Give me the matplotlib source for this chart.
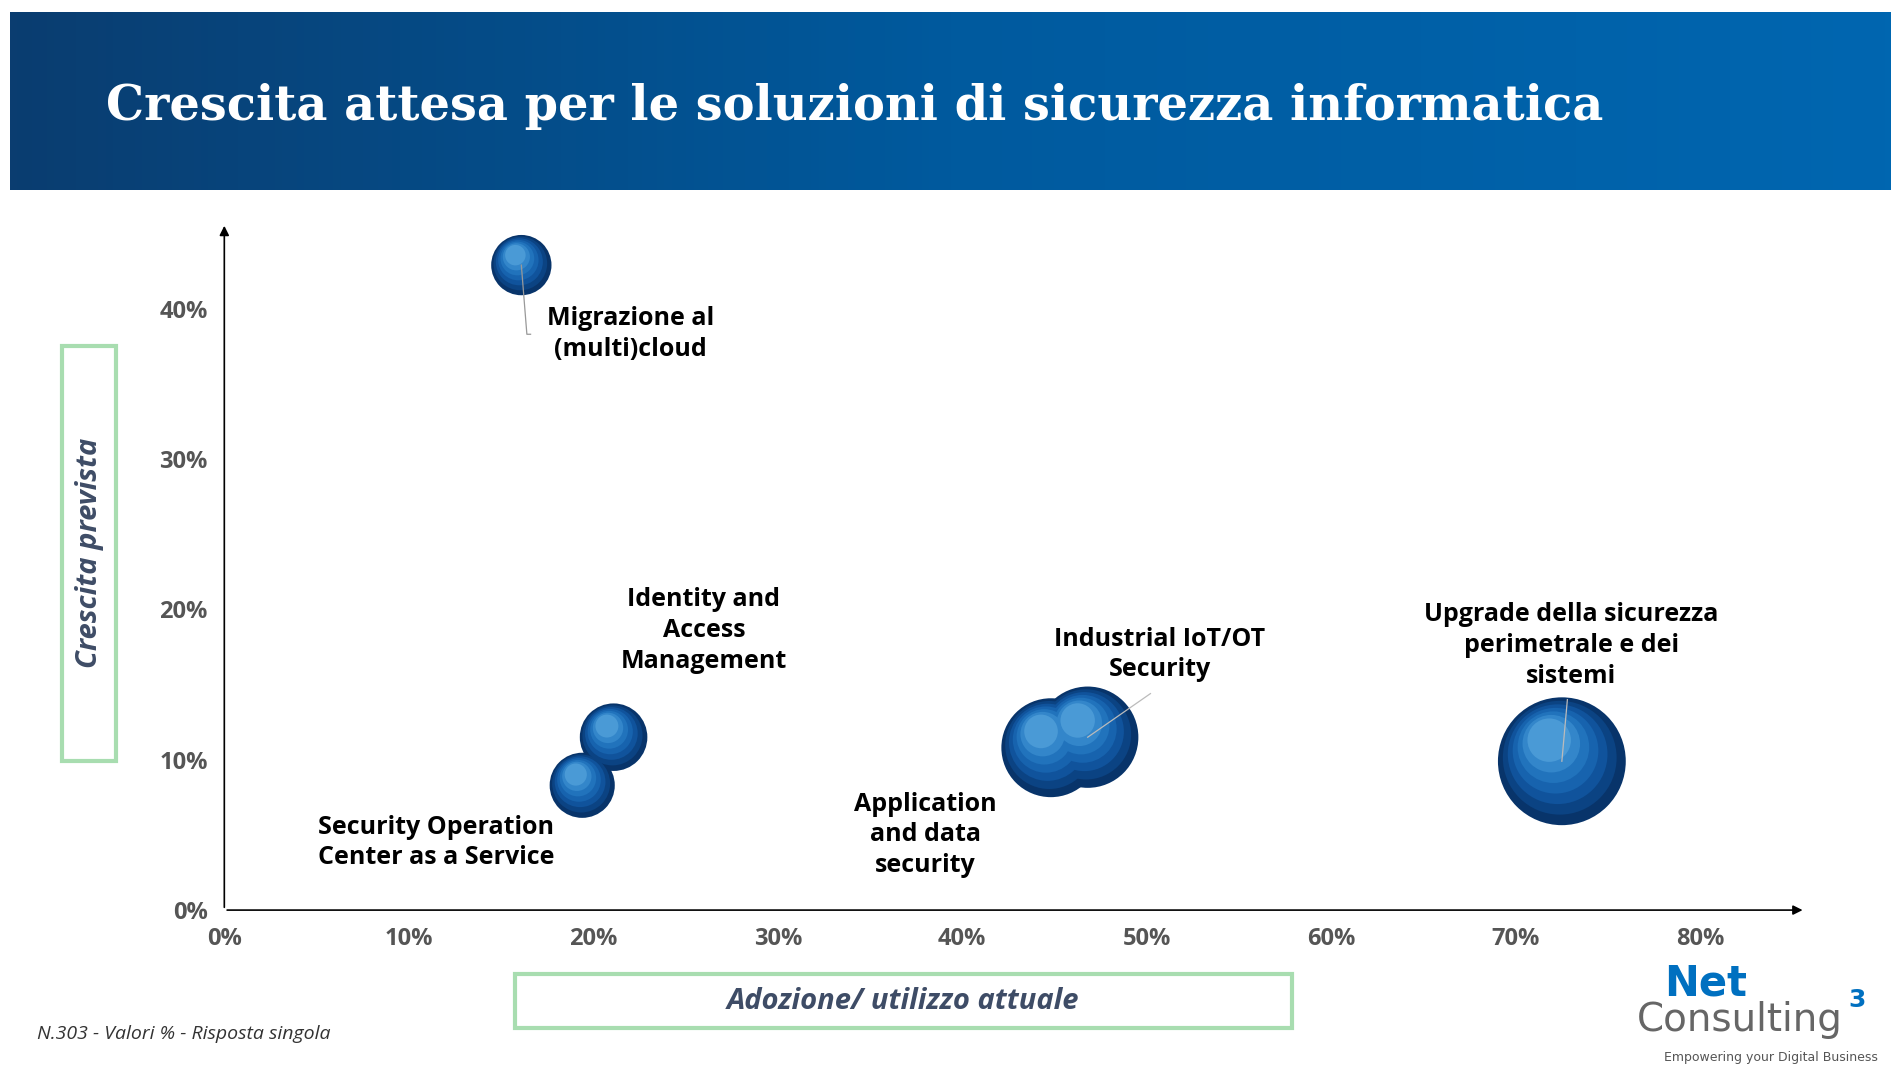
import numpy as np
import matplotlib.pyplot as plt
from matplotlib.patches import Rectangle
from matplotlib.colors import LinearSegmentedColormap

# Dati
nomi = ["Migrazione al\n(multi)cloud", "Identity and\nAccess\nManagement",
        "Security Operation\nCenter as a Service", "Application\nand data\nsecurity",
        "Industrial IoT/OT\nSecurity", "Upgrade della sicurezza\nperimetrale e dei\nsistemi"]
adozione = [16.1, 21.1, 19.4, 44.8, 46.8, 72.5]
crescita = [42.9, 11.5, 8.3, 10.8, 11.5, 9.9]
dimensione = [25, 28, 27, 41, 42, 53]
x_ticks = [0, 10, 20, 30, 40, 50, 60, 70, 80]
y_ticks = [0, 10, 20, 30, 40]

# posizione etichette (in unità dati)
label_pos = [(22.0, 38.3), (26.0, 18.6), (11.5, 4.5), (38.0, 5.0), (50.7, 17.0), (73.0, 17.6)]

fig = plt.figure(figsize=(18.91, 10.68), dpi=100)
fig.patch.set_facecolor("white")

# banda titolo con gradiente
hdr = fig.add_axes([8/1568, 1-158/886, 1-8/1568, 148/886])
grad = np.linspace(0, 1, 256).reshape(1, -1)
cm = LinearSegmentedColormap.from_list("h", ["#0A3D70", "#005A9E", "#0066B0"])
hdr.imshow(grad, aspect="auto", cmap=cm, extent=[0, 1, 0, 1])
hdr.axis("off")
hdr.text(0.051, 0.47, "Crescita attesa per le soluzioni di sicurezza informatica",
         color="white", fontsize=34.5, fontweight="heavy", family="DejaVu Serif", va="center")

ax = fig.add_axes([186/1568, 1-755/886, (1497-186)/1568, (755-185)/886])
ax.set_xlim(0, 85.7)
ax.set_ylim(0, 45.7)
for s in ax.spines.values():
    s.set_visible(False)
ax.annotate("", xy=(1, 0), xytext=(0, 0), xycoords="axes fraction",
            arrowprops=dict(arrowstyle="-|>", color="black", lw=1.2, mutation_scale=14))
ax.annotate("", xy=(0, 1), xytext=(0, 0), xycoords="axes fraction",
            arrowprops=dict(arrowstyle="-|>", color="black", lw=1.2, mutation_scale=14))
ax.set_xticks(x_ticks)
ax.set_xticklabels([f"{v}%" for v in x_ticks])
ax.set_yticks(y_ticks)
ax.set_yticklabels([f"{v}%" for v in y_ticks])
ax.tick_params(length=0, labelsize=17, labelcolor="#555555", pad=12)
for t in ax.get_xticklabels() + ax.get_yticklabels():
    t.set_fontweight("bold")
    t.set_family("Open Sans")

# bolle con effetto sferico
shades = ["#08346A", "#0B4383", "#10539C", "#1763AE", "#2173BC", "#3386CA", "#4A9AD6"]
for x, y, d in zip(adozione, crescita, dimensione):
    r_pt = d * 1.206 * 0.72
    for k, c in enumerate(shades):
        f = 1 - k * 0.11
        off = (1 - f) * d * 0.5 * 45.7 / 570
        offx = -(1 - f) * d * 0.3 * 85.7 / 1311
        ax.scatter(x + offx, y + off, s=(2 * r_pt * f) ** 2, color=c, zorder=3 + k * 0.01,
                   edgecolors="none")

for (lx, ly), nome in zip(label_pos, nomi):
    ax.text(lx, ly, nome, ha="center", va="center", fontsize=18, fontweight="bold",
            family="Open Sans", linespacing=1.3, zorder=5)

# linee guida
ax.plot([16.1, 16.4, 16.6], [42.9, 38.3, 38.3], color="#999999", lw=0.9, zorder=6)
ax.plot([46.8, 50.2], [11.5, 14.4], color="#BBBBBB", lw=0.9, zorder=6)
ax.plot([72.5, 72.8], [9.9, 14.0], color="#BBBBBB", lw=0.9, zorder=6)

# titoli assi con riquadri verdi
fig.patches.append(Rectangle((51/1568, 1-631/886), 45/1568, 344/886, transform=fig.transFigure,
                             fill=False, edgecolor="#A8DDB0", lw=3))
fig.text(74/1568, 1-459/886, "Crescita prevista", rotation=90, ha="center", va="center",
         fontsize=21, fontweight="bold", style="italic", color="#3E4C66", family="Open Sans")
fig.patches.append(Rectangle((427/1568, 1-853/886), 644/1568, 45/886, transform=fig.transFigure,
                             fill=False, edgecolor="#A8DDB0", lw=3))
fig.text(749/1568, 1-831/886, "Adozione/ utilizzo attuale", ha="center", va="center",
         fontsize=21, fontweight="bold", style="italic", color="#3E4C66", family="Open Sans")

fig.text(31/1568, 1-858/886, "N.303 - Valori % - Risposta singola", fontsize=14,
         style="italic", color="#333333", va="center", family="Open Sans")

# logo
fig.text(1380/1568, 1-816/886, "Net", fontsize=30, fontweight="bold", color="#0070C0",
         va="center", family="DejaVu Sans")
fig.text(1357/1568, 1-846/886, "Consulting", fontsize=28, color="#666666", va="center",
         family="DejaVu Sans")
fig.text(1533/1568, 1-830/886, "3", fontsize=18, fontweight="bold", color="#0070C0", va="center")
fig.text(1380/1568, 1-877/886, "Empowering your Digital Business", fontsize=9, color="#555555",
         va="center")

fig.savefig("out.png", dpi=100)
